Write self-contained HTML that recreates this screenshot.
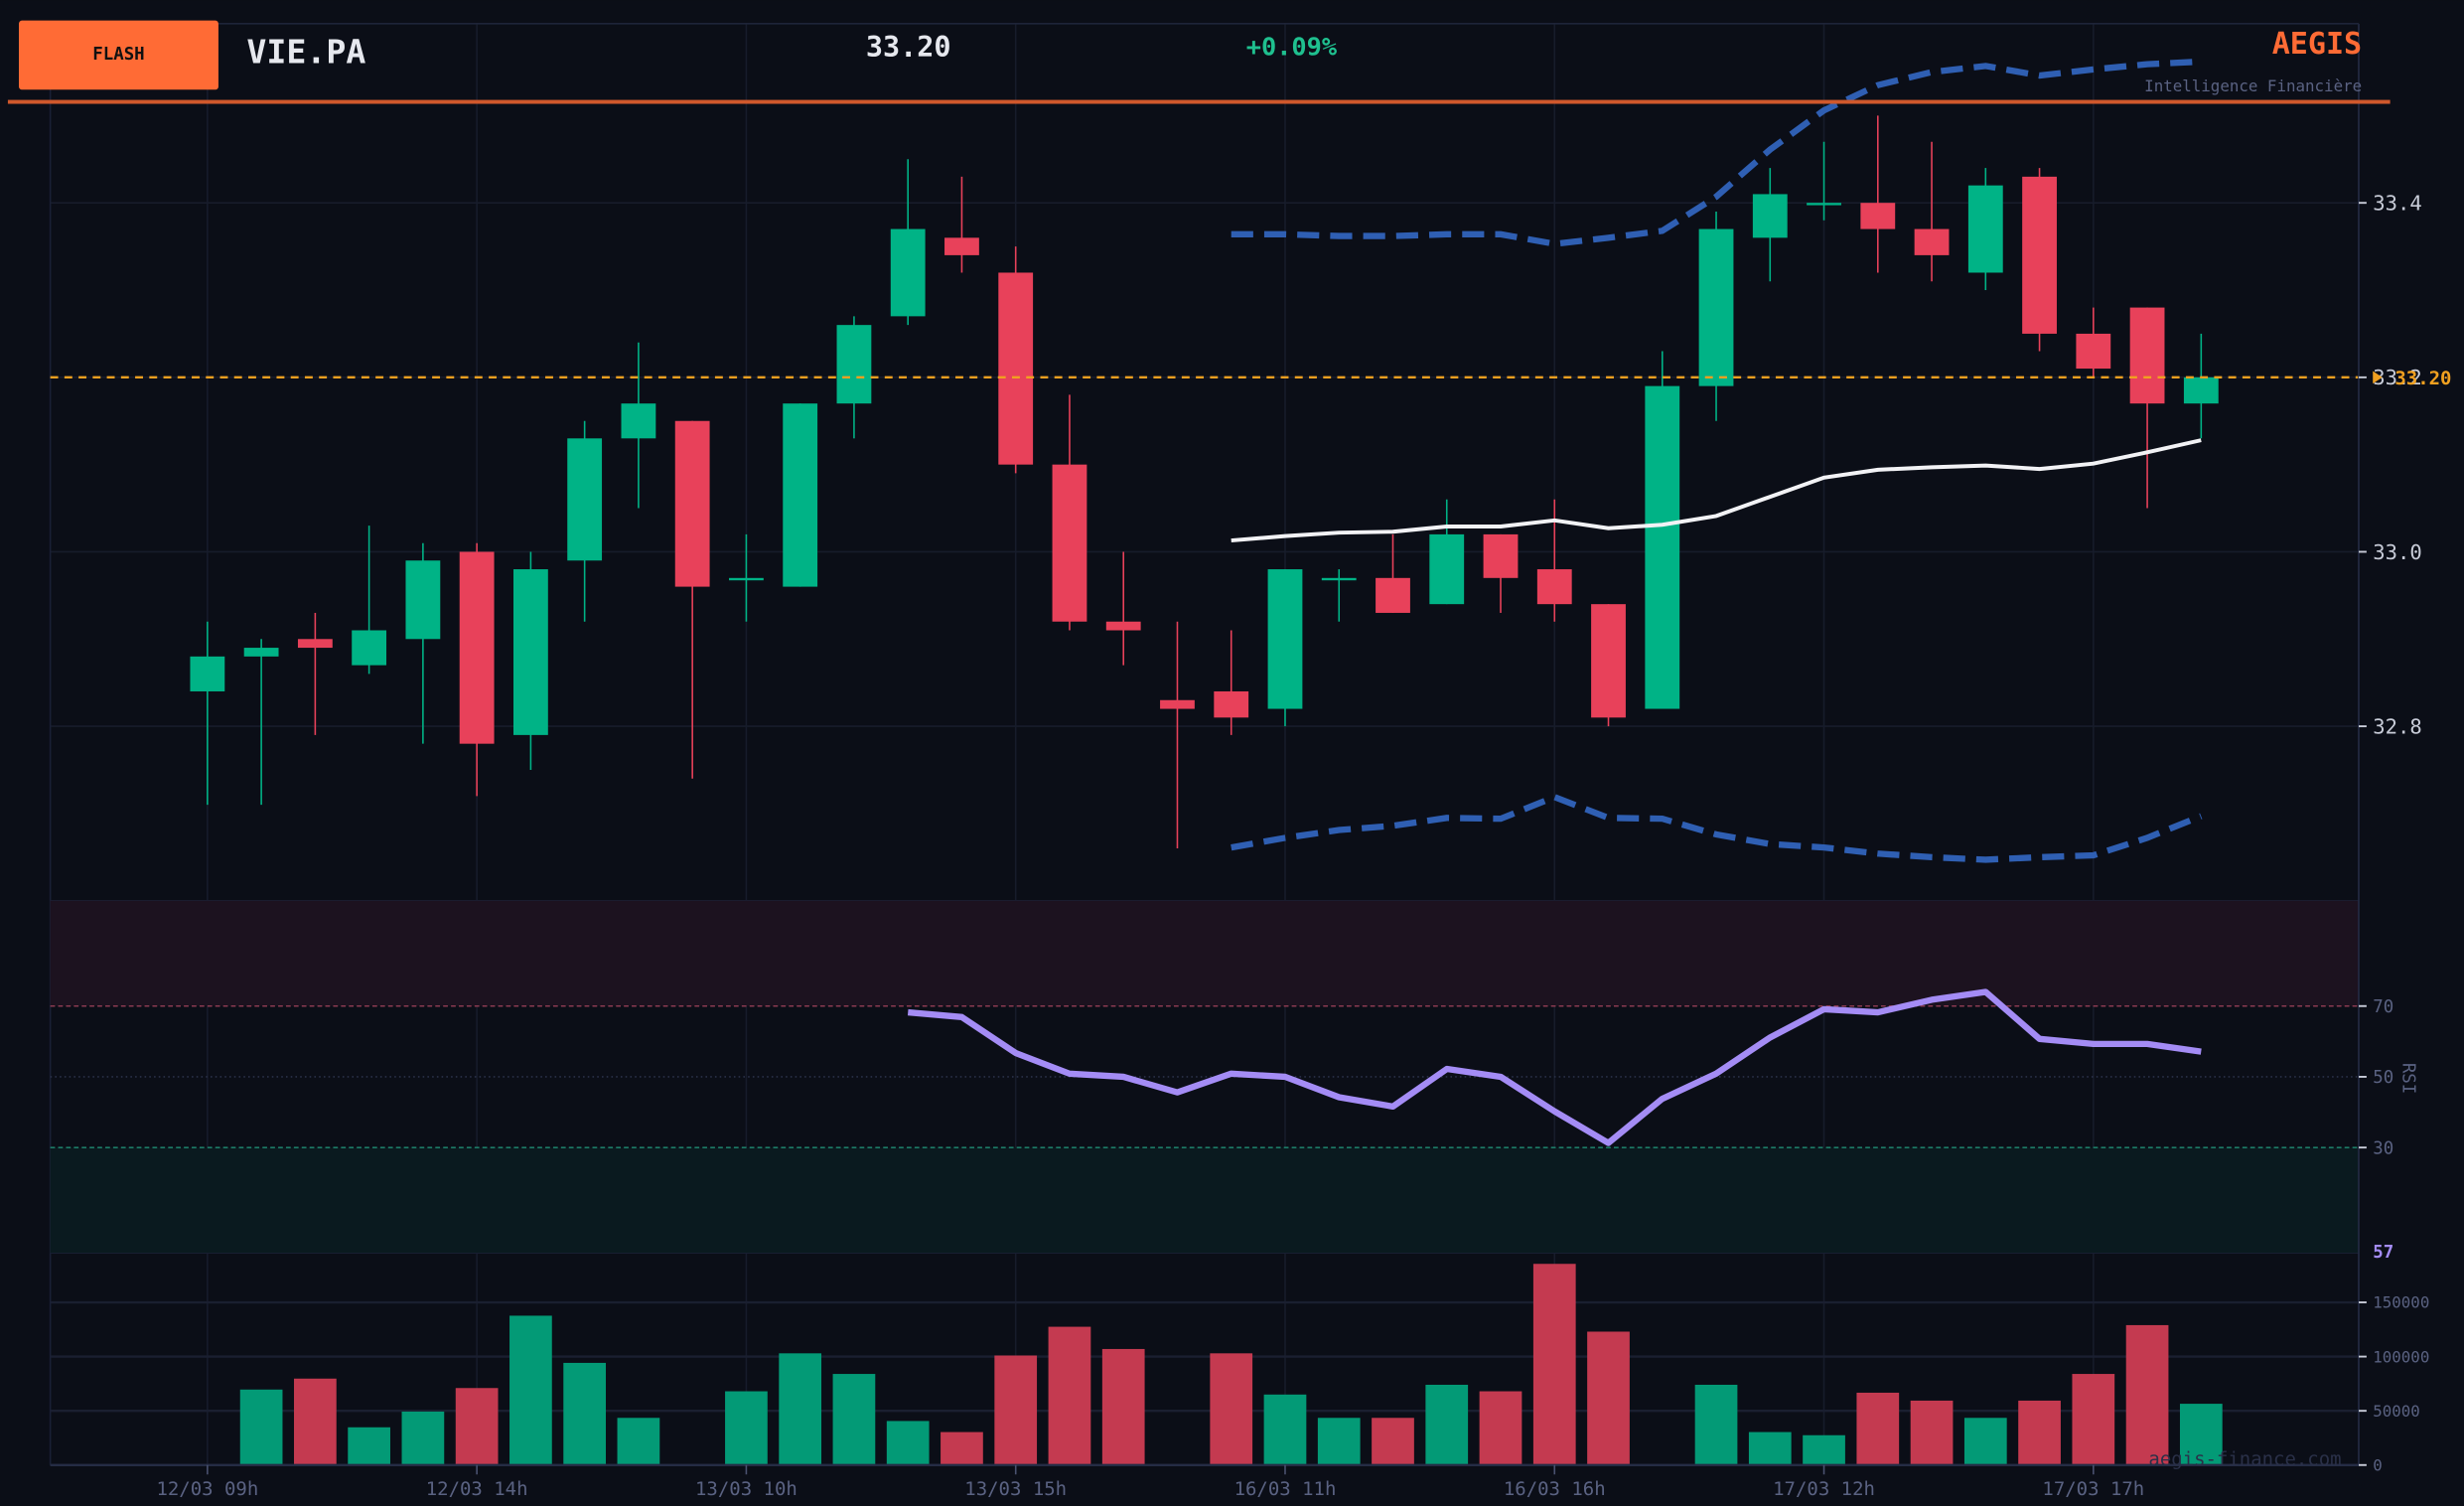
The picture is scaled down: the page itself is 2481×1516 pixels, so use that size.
<!DOCTYPE html>
<html><head><meta charset="utf-8">
<style>
html,body{margin:0;padding:0;background:#0b0e17;}
svg{display:block;}
text{font-family:"DejaVu Sans Mono","Liberation Mono",monospace;}
</style></head>
<body>
<svg id="chart" width="2481" height="1516" viewBox="0 0 1568 958" xmlns="http://www.w3.org/2000/svg">
<rect x="0" y="0" width="1568" height="958" fill="#0b0e17"/>
<g id="grid"></g>
<rect x="32" y="573" width="1469" height="67" fill="#1c121f"/>
<rect x="32" y="730" width="1469" height="67" fill="#0a1a1f"/>
<g id="vol"></g>
<g id="candles"></g>
<g id="bands"></g>
<g id="rsi"></g>
<g id="axes"></g>
<line x1="32" y1="15" x2="1501" y2="15" stroke="#1e2438" stroke-width="1"/>
<rect x="12" y="13" width="127" height="44" rx="2" fill="#ff6b35"/>
<text x="75.5" y="38" font-size="11" font-weight="bold" fill="#111" text-anchor="middle">FLASH</text>
<text x="157" y="40" font-size="21" font-weight="bold" fill="#e6e8ee">VIE.PA</text>
<text x="551" y="36" font-size="18" font-weight="bold" fill="#e6e8ee">33.20</text>
<text x="793" y="35" font-size="16" font-weight="bold" fill="#1fc08f">+0.09%</text>
<text x="1503" y="34" font-size="19" font-weight="bold" fill="#ff6b35" text-anchor="end">AEGIS</text>
<text x="1503" y="58" font-size="10" fill="#5a6282" text-anchor="end">Intelligence Financière</text>
<rect x="5" y="63.5" width="1516" height="2.5" fill="#d0582c"/>
<text x="1490" y="932" font-size="12" fill="#2a3048" text-anchor="end">aegis-finance.com</text>
</svg>
<script>
const NS='http://www.w3.org/2000/svg';
const xLabels=['12/03 09h','12/03 14h','13/03 10h','13/03 15h','16/03 11h','16/03 16h','17/03 12h','17/03 17h'];
const opens=[32.84,32.88,32.90,32.87,32.90,33.00,32.79,32.99,33.13,33.15,32.97,32.96,33.17,33.27,33.36,33.32,33.10,32.92,32.83,32.84,32.82,32.97,32.97,32.94,33.02,32.98,32.94,32.82,33.19,33.36,33.40,33.40,33.37,33.32,33.43,33.25,33.28,33.17];
const closes=[32.88,32.89,32.89,32.91,32.99,32.78,32.98,33.13,33.17,32.96,32.97,33.17,33.26,33.37,33.34,33.10,32.92,32.91,32.82,32.81,32.98,32.97,32.93,33.02,32.97,32.94,32.81,33.19,33.37,33.41,33.40,33.37,33.34,33.42,33.25,33.21,33.17,33.20];
const highs=[32.92,32.90,32.93,33.03,33.01,33.01,33.00,33.15,33.24,33.15,33.02,33.17,33.27,33.45,33.43,33.35,33.18,33.00,32.92,32.91,32.98,32.98,33.02,33.06,33.02,33.06,32.94,33.23,33.39,33.44,33.47,33.50,33.47,33.44,33.44,33.28,33.28,33.25];
const lows=[32.71,32.71,32.79,32.86,32.78,32.72,32.75,32.92,33.05,32.74,32.92,32.96,33.13,33.26,33.32,33.09,32.91,32.87,32.66,32.79,32.80,32.92,32.93,32.94,32.93,32.92,32.80,32.82,33.15,33.31,33.38,33.32,33.31,33.30,33.23,33.20,33.05,33.13];
const volumes=[0,69600,79700,34800,49300,71000,137700,94200,43500,0,68000,103000,84000,40600,30400,101000,127500,107000,0,103000,65000,43500,43500,74000,68000,185500,123000,0,74000,30400,27500,66700,59400,43500,59400,84000,129000,56500];
const bandStart=19;
const upperBand=[33.364,33.364,33.362,33.362,33.364,33.364,33.353,33.360,33.368,33.407,33.461,33.506,33.535,33.550,33.557,33.546,33.553,33.559,33.562];
const middleBand=[33.013,33.018,33.022,33.023,33.029,33.029,33.036,33.027,33.031,33.041,33.063,33.085,33.094,33.097,33.099,33.095,33.101,33.114,33.128];
const lowerBand=[32.661,32.672,32.681,32.686,32.695,32.694,32.719,32.695,32.694,32.676,32.665,32.661,32.654,32.650,32.647,32.650,32.652,32.672,32.697];
const rsiStart=13;
const rsiValues=[68.2,66.9,56.7,50.9,50.0,45.6,50.9,50.0,44.2,41.6,52.2,50.0,40.2,31.3,43.8,50.9,61.1,69.1,68.2,71.8,74.0,60.7,59.3,59.3,57.1];
const priceTicks=[32.8,33.0,33.2,33.4];
const rsiTicks=[70,50,30];
const volTicks=[0,50000,100000,150000];
const lastPrice=33.20;

const X=i=>132+i*34.29;
const PY=p=>351-(p-33)*555;
const RY=r=>685-(r-50)*2.25;
const VY=v=>932-v*0.00069;
function mk(tag,attrs,parent){const e=document.createElementNS(NS,tag);for(const k in attrs)e.setAttribute(k,attrs[k]);parent.appendChild(e);return e;}
const G=id=>document.getElementById(id);

const grid=G('grid');
xLabels.forEach((l,k)=>{const el=mk('line',{x1:X(k*5),x2:X(k*5),y1:15,y2:932,stroke:'#171c2b','stroke-width':1},grid);

});
priceTicks.forEach(p=>{const el=mk('line',{x1:32,x2:1501,y1:PY(p),y2:PY(p),stroke:'#171c2b','stroke-width':1},grid);

});
volTicks.forEach(v=>{const el=mk('line',{x1:32,x2:1501,y1:VY(v),y2:VY(v),stroke:'#1a1f30','stroke-width':1.5},grid);

});
{const el=mk('line',{x1:32,x2:32,y1:15,y2:932,stroke:'#1a2035','stroke-width':1},grid);

}
{const el=mk('line',{x1:32,x2:1501,y1:573,y2:573,stroke:'#1a2035','stroke-width':1},grid);

}
{const el=mk('line',{x1:32,x2:1501,y1:797,y2:797,stroke:'#1a2035','stroke-width':1},grid);

}

const vol=G('vol');
volumes.forEach((v,i)=>{if(!v)return;const up=closes[i]>=opens[i];
const el=mk('rect',{x:X(i)-13.5,y:VY(v),width:27,height:932-VY(v),fill:up?'#039a76':'#c43a50'},vol);

});

const cg=G('candles');
opens.forEach((o,i)=>{const c=closes[i];const up=c>=o;const col=up?'#00b386':'#e8415a';
const w=mk('line',{x1:X(i),x2:X(i),y1:PY(highs[i]),y2:PY(lows[i]),stroke:col,'stroke-width':1},cg);


const top=PY(Math.max(o,c)),h=Math.max(1.5,Math.abs(PY(o)-PY(c)));
const b=mk('rect',{x:X(i)-11,y:top,width:22,height:h,fill:col},cg);

});

const bg=G('bands');
function pts(arr,start,fy){return arr.map((v,k)=>X(start+k).toFixed(1)+','+fy(v).toFixed(1)).join(' ');}
{const el=mk('polyline',{points:pts(upperBand,bandStart,PY),fill:'none',stroke:'#2f5fb3','stroke-width':4,'stroke-dasharray':'14,7'},bg);

}
{const el=mk('polyline',{points:pts(lowerBand,bandStart,PY),fill:'none',stroke:'#2f5fb3','stroke-width':4,'stroke-dasharray':'14,7'},bg);

}
{const el=mk('polyline',{points:pts(middleBand,bandStart,PY),fill:'none',stroke:'#f2f2f5','stroke-width':2.5},bg);

}
{const el=mk('line',{x1:32,x2:1501,y1:PY(lastPrice),y2:PY(lastPrice),stroke:'#f0a020','stroke-width':1.5,'stroke-dasharray':'5,4'},bg);

}

const rg=G('rsi');
{const el=mk('line',{x1:32,x2:1501,y1:RY(70),y2:RY(70),stroke:'#8a3a50','stroke-width':1,'stroke-dasharray':'3,2'},rg);

}
{const el=mk('line',{x1:32,x2:1501,y1:RY(50),y2:RY(50),stroke:'#2a3048','stroke-width':1,'stroke-dasharray':'1,2'},rg);

}
{const el=mk('line',{x1:32,x2:1501,y1:RY(30),y2:RY(30),stroke:'#1d7a66','stroke-width':1,'stroke-dasharray':'3,2'},rg);

}
{const el=mk('polyline',{points:pts(rsiValues,rsiStart,RY),fill:'none',stroke:'#a48cf5','stroke-width':4,'stroke-linejoin':'round'},rg);

}

const ax=G('axes');
{const el=mk('line',{x1:1501,x2:1501,y1:15,y2:932,stroke:'#252c45','stroke-width':1},ax);

}
{const el=mk('line',{x1:32,x2:1501,y1:932,y2:932,stroke:'#252c45','stroke-width':1.5},ax);

}
function tick(y,label,size,color,name){
const t=mk('line',{x1:1501,x2:1506,y1:y,y2:y,stroke:'#c8ccd8','stroke-width':1.2},ax);


const tx=mk('text',{x:1510,y:y+size*0.36,'font-size':size,fill:color},ax);tx.textContent=label;

}
priceTicks.forEach(p=>tick(PY(p),p.toFixed(1),13,'#c8ccd8','price-tick'));
rsiTicks.forEach(r=>tick(RY(r),String(r),11,'#5a6282','rsi-tick'));
volTicks.forEach(v=>tick(VY(v),String(v),10,'#5a6282','volume-tick'));
xLabels.forEach((l,k)=>{const t=mk('line',{x1:X(k*5),x2:X(k*5),y1:932,y2:938,stroke:'#4a5270','stroke-width':1},ax);


const tx=mk('text',{x:X(k*5),y:951,'font-size':12,fill:'#5a6282','text-anchor':'middle'},ax);tx.textContent=l;

});
{const tx=mk('text',{x:1524,y:PY(lastPrice)+4.5,'font-size':12,'font-weight':'bold',fill:'#f0a020'},ax);tx.textContent=lastPrice.toFixed(2);

}
{const p=mk('polygon',{points:'1510,236 1510,244 1516,240',fill:'#f0a020'},ax);

}
{const tx=mk('text',{x:1510,y:800,'font-size':11,'font-weight':'bold',fill:'#a48cf5'},ax);tx.textContent=String(Math.round(rsiValues[rsiValues.length-1]));

}
{const tx=mk('text',{x:0,y:0,'font-size':11,fill:'#5a6282','text-anchor':'middle',transform:'translate(1529,686) rotate(90)'},ax);tx.textContent='RSI';

}
</script>
</body></html>
